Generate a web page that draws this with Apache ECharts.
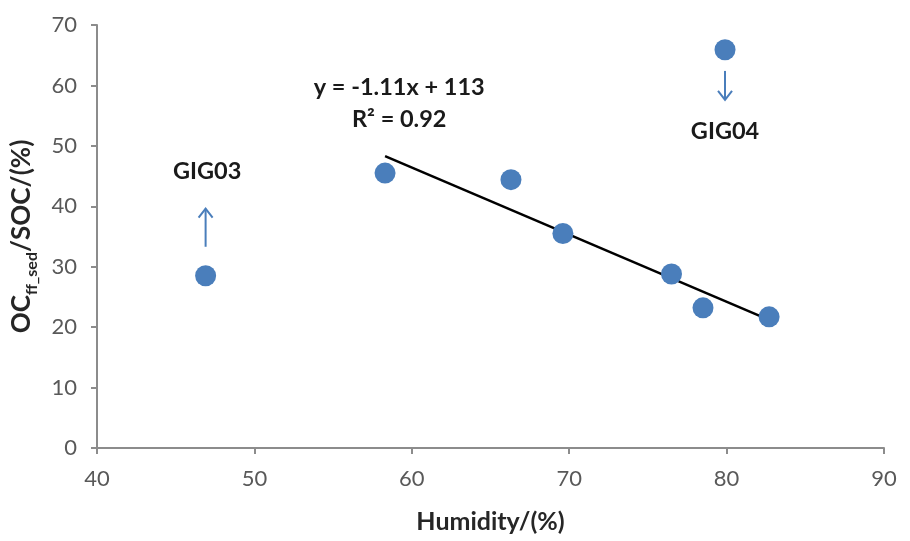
<!DOCTYPE html>
<html><head><meta charset="utf-8">
<script src="https://cdn.jsdelivr.net/npm/echarts@6/dist/echarts.min.js"></script>
<style>html,body{margin:0;padding:0;background:#fff}#c{width:910px;height:541px}</style>
</head><body><div id="c"></div>
<script>
const humidity = [46.9, 58.3, 66.3, 69.6, 76.5, 78.5, 82.7, 79.9];
const ratio = [28.5, 45.5, 44.4, 35.5, 28.8, 23.2, 21.7, 65.9];
const trendX = [58.3, 82.7];
const trendSlope = -1.11, trendIntercept = 113;
const arrows = [[46.9, 33.3, 46.9, 39.6], [79.9, 62.4, 79.9, 57.6]];
const labels = [[47.0, 45.8, 'GIG03'], [79.9, 52.4, 'GIG04'], [59.2, 59.6, 'y = -1.11x + 113'], [59.2, 54.3, 'R² = 0.92']];
const xTicks = [40, 50, 60, 70, 80, 90];
const yTicks = [0, 10, 20, 30, 40, 50, 60, 70];

const FONT = 'Lato';
const chart = echarts.init(document.getElementById('c'));
chart.setOption({
  animation: false,
  grid: {left: 97, right: 26, top: 25, bottom: 93},
  xAxis: {
    type: 'value', min: xTicks[0], max: xTicks[xTicks.length - 1], interval: 10,
    name: 'Humidity/(%)', nameLocation: 'middle', nameGap: 61,
    nameTextStyle: {fontFamily: FONT, fontWeight: 'bold', fontSize: 25, color: '#262626'},
    axisLine: {lineStyle: {color: '#8c8c8c', width: 2}},
    axisTick: {show: true, inside: false, length: 6, lineStyle: {color: '#8c8c8c', width: 2}},
    axisLabel: {fontFamily: FONT, fontSize: 22, color: '#595959', margin: 20},
    splitLine: {show: false}
  },
  yAxis: {
    type: 'value', min: yTicks[0], max: yTicks[yTicks.length - 1], interval: 10,
    name: '{a|OC}{b|ff_sed}{a|/SOC/(%)}', nameLocation: 'middle', nameGap: 62,
    nameTextStyle: {
      rich: {
        a: {fontFamily: FONT, fontWeight: 'bold', fontSize: 26, color: '#262626', verticalAlign: 'bottom', lineHeight: 30},
        b: {fontFamily: FONT, fontWeight: 'bold', fontSize: 16, color: '#262626', verticalAlign: 'bottom', lineHeight: 20, padding: [0, 0, -5, 0]}
      }
    },
    axisLine: {show: true, lineStyle: {color: '#8c8c8c', width: 2}},
    axisTick: {show: true, inside: false, length: 6, lineStyle: {color: '#8c8c8c', width: 2}},
    axisLabel: {fontFamily: FONT, fontSize: 22, color: '#595959', margin: 20},
    splitLine: {show: false}
  },
  series: [
    {
      type: 'line', data: trendX.map(x => [x, trendSlope * x + trendIntercept]),
      symbol: 'none', lineStyle: {color: '#000', width: 2.5}, z: 2
    },
    {
      type: 'scatter', data: humidity.map((h, i) => [h, ratio[i]]),
      symbolSize: 21, itemStyle: {color: '#4a7ebb', opacity: 1}, z: 3
    },
    {
      type: 'custom', data: arrows, z: 4,
      renderItem: (params, api) => {
        const p0 = api.coord([api.value(0), api.value(1)]);
        const p1 = api.coord([api.value(2), api.value(3)]);
        const dir = p1[1] < p0[1] ? 1 : -1;
        const h = 9, w = 7;
        return {
          type: 'group', children: [
            {type: 'line', shape: {x1: p0[0], y1: p0[1], x2: p1[0], y2: p1[1]}, style: {stroke: '#4a7ebb', lineWidth: 2}},
            {type: 'polyline', shape: {points: [[p1[0] - w, p1[1] + dir * h], [p1[0], p1[1]], [p1[0] + w, p1[1] + dir * h]]}, style: {stroke: '#4a7ebb', lineWidth: 2, fill: null}}
          ]
        };
      }
    },
    {
      type: 'custom', data: labels, z: 5,
      renderItem: (params, api) => {
        const p = api.coord([api.value(0), api.value(1)]);
        return {
          type: 'text', x: p[0], y: p[1],
          style: {text: labels[params.dataIndex][2], fontFamily: FONT, fontWeight: 'bold', fontSize: 23.5, fill: '#1a1a1a', align: 'center', verticalAlign: 'middle'}
        };
      }
    }
  ]
});
</script></body></html>
